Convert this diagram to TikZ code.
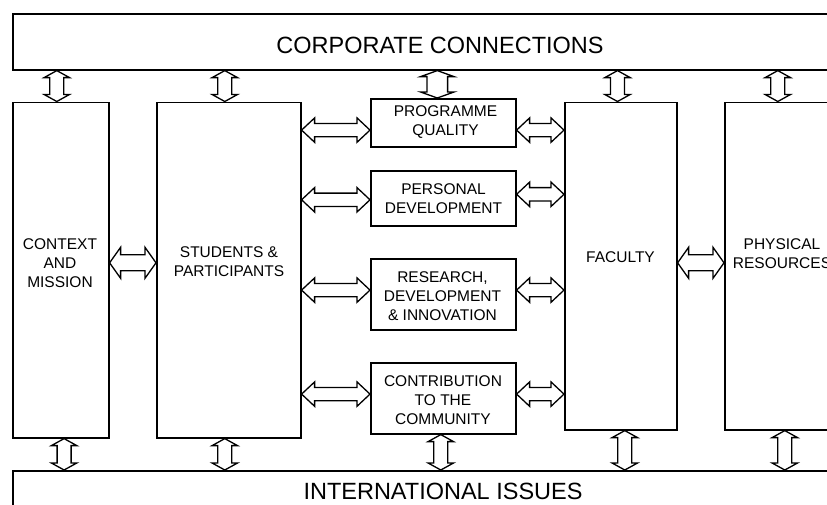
\documentclass[tikz,border=0pt]{standalone}
\usepackage{fontspec}
\setmainfont{Liberation Sans}
\usetikzlibrary{calc}

\tikzset{
  box/.style={draw, line width=1.6pt, inner sep=0pt, anchor=north west},
  lbl/.style={inner sep=0pt, align=center, font=\fontsize{15.5}{19}\selectfont},
  biglbl/.style={inner sep=0pt, font=\fontsize{23.5}{28}\selectfont},
  % hollow double-headed block arrow: {head length}{head half-width}{shaft half-width}
  dbl/.style n args={3}{line width=1.3pt, line join=miter, fill=white,
    to path={
      (\tikztostart)
      -- ($(\tikztostart)!#1!(\tikztotarget)!#2!90:(\tikztotarget)$)
      -- ($(\tikztostart)!#1!(\tikztotarget)!#3!90:(\tikztotarget)$)
      -- ($(\tikztotarget)!#1!(\tikztostart)!#3!-90:(\tikztostart)$)
      -- ($(\tikztotarget)!#1!(\tikztostart)!#2!-90:(\tikztostart)$)
      -- (\tikztotarget)
      -- ($(\tikztotarget)!#1!(\tikztostart)!#2!90:(\tikztostart)$)
      -- ($(\tikztotarget)!#1!(\tikztostart)!#3!90:(\tikztostart)$)
      -- ($(\tikztostart)!#1!(\tikztotarget)!#3!-90:(\tikztotarget)$)
      -- ($(\tikztostart)!#1!(\tikztotarget)!#2!-90:(\tikztotarget)$)
      -- cycle}},
  vlink/.style={dbl={7pt}{12.7pt}{7pt}},
  vwide/.style={dbl={6pt}{16.7pt}{10.3pt}},
  hbig/.style={dbl={11pt}{15.5pt}{8pt}},
  hrow/.style={dbl={13pt}{12.2pt}{6.7pt}},
}

\begin{document}
\begin{tikzpicture}[x=1pt, y=-1pt]
\useasboundingbox (0,0) rectangle (827,504);
\clip (0,0) rectangle (827,504);

% bands across the top and bottom
\node[box, minimum width=860pt, minimum height=56pt] (corp) at (12,13) {};
\node[biglbl] (corplbl) at (440,45.3) {CORPORATE CONNECTIONS};
\node[box, minimum width=860pt, minimum height=60pt] (intl) at (12,470) {};
\node[biglbl] (intllbl) at (443,491) {INTERNATIONAL ISSUES};

% tall columns
\node[box, minimum width=96pt,  minimum height=335.5pt] (ctx) at (12,101.5) {};
\node[box, minimum width=144pt, minimum height=335.5pt] (stu) at (156,101.5) {};
\node[box, minimum width=112pt, minimum height=327.5pt] (fac) at (564,101.5) {};
\node[box, minimum width=118pt, minimum height=327.5pt] (phy) at (724,101.5) {};

\node[lbl] (ctxlbl) at (60,263)    {CONTEXT\\AND\\MISSION};
\node[lbl] (stulbl) at (229,262)   {STUDENTS \&\\PARTICIPANTS};
\node[lbl] (faclbl) at (620.5,256.7) {FACULTY};
\node[lbl] (phylbl) at (782,254)   {PHYSICAL\\RESOURCES};

% middle column of outcome boxes
\node[box, minimum width=145pt, minimum height=48pt] (pq)  at (370,98) {};
\node[box, minimum width=145pt, minimum height=55pt] (pd)  at (370,170) {};
\node[box, minimum width=145pt, minimum height=71pt] (rdi) at (370,258) {};
\node[box, minimum width=145pt, minimum height=71pt] (ctc) at (370,362) {};

\node[lbl] (pqlbl)  at (445.5,122) {PROGRAMME\\QUALITY};
\node[lbl] (pdlbl)  at (443.5,199) {PERSONAL\\DEVELOPMENT};
\node[lbl] (rdilbl) at (442.5,296) {RESEARCH,\\DEVELOPMENT\\\& INNOVATION};
\node[lbl] (ctclbl) at (443,400)   {CONTRIBUTION\\TO THE\\COMMUNITY};

% feet of the vertical links
\coordinate (ctxT) at ($(ctx.north)+(-4,0)$);
\coordinate (stuT) at ($(stu.north)+(-4,0)$);
\coordinate (pqT)  at ($(pq.north)+(-6,0)$);
\coordinate (facT) at ($(fac.north)+(-3.3,0)$);
\coordinate (phyT) at ($(phy.north)+(-6,0)$);
\coordinate (ctxB) at ($(ctx.south)+(3.3,0)$);
\coordinate (stuB) at ($(stu.south)+(-4,0)$);
\coordinate (ctcB) at ($(ctc.south)+(-2.5,0)$);
\coordinate (facB) at ($(fac.south)+(4,0)$);
\coordinate (phyB) at ($(phy.south)+(1,0)$);

\draw[vlink] (ctxT |- corp.south) to (ctxT);
\draw[vlink] (stuT |- corp.south) to (stuT);
\draw[vwide] (pqT  |- corp.south) to (pqT);
\draw[vlink] (facT |- corp.south) to (facT);
\draw[vlink] (phyT |- corp.south) to (phyT);

\draw[vlink] (ctxB) to (ctxB |- intl.north);
\draw[vlink] (stuB) to (stuB |- intl.north);
\draw[vlink] (ctcB) to (ctcB |- intl.north);
\draw[vlink] (facB) to (facB |- intl.north);
\draw[vlink] (phyB) to (phyB |- intl.north);

% horizontal links
\coordinate (ctxR) at ($(ctx.east)+(0,-7.25)$);
\coordinate (facR) at ($(fac.east)+(0,-3.25)$);
\draw[hbig] (ctxR) to (stu.west |- ctxR);
\draw[hbig] (facR) to (phy.west |- facR);

\coordinate (pqL)  at ($(pq.west)+(0,7.3)$);
\coordinate (pqR)  at ($(pq.east)+(0,7.3)$);
\coordinate (pdL)  at ($(pd.west)+(0,1.5)$);
\coordinate (pdR)  at ($(pd.east)+(0,-4)$);
\coordinate (rdiL) at ($(rdi.west)+(0,-4.2)$);
\coordinate (rdiR) at ($(rdi.east)+(0,-4.2)$);
\coordinate (ctcL) at ($(ctc.west)+(0,-4.2)$);
\coordinate (ctcR) at ($(ctc.east)+(0,-4.2)$);

\draw[hrow] (stu.east |- pqL)  to (pqL);
\draw[hrow] (stu.east |- pdL)  to (pdL);
\draw[hrow] (stu.east |- rdiL) to (rdiL);
\draw[hrow] (stu.east |- ctcL) to (ctcL);
\draw[hrow] (pqR)  to (fac.west |- pqR);
\draw[hrow] (pdR)  to (fac.west |- pdR);
\draw[hrow] (rdiR) to (fac.west |- rdiR);
\draw[hrow] (ctcR) to (fac.west |- ctcR);
\end{tikzpicture}
\end{document}
